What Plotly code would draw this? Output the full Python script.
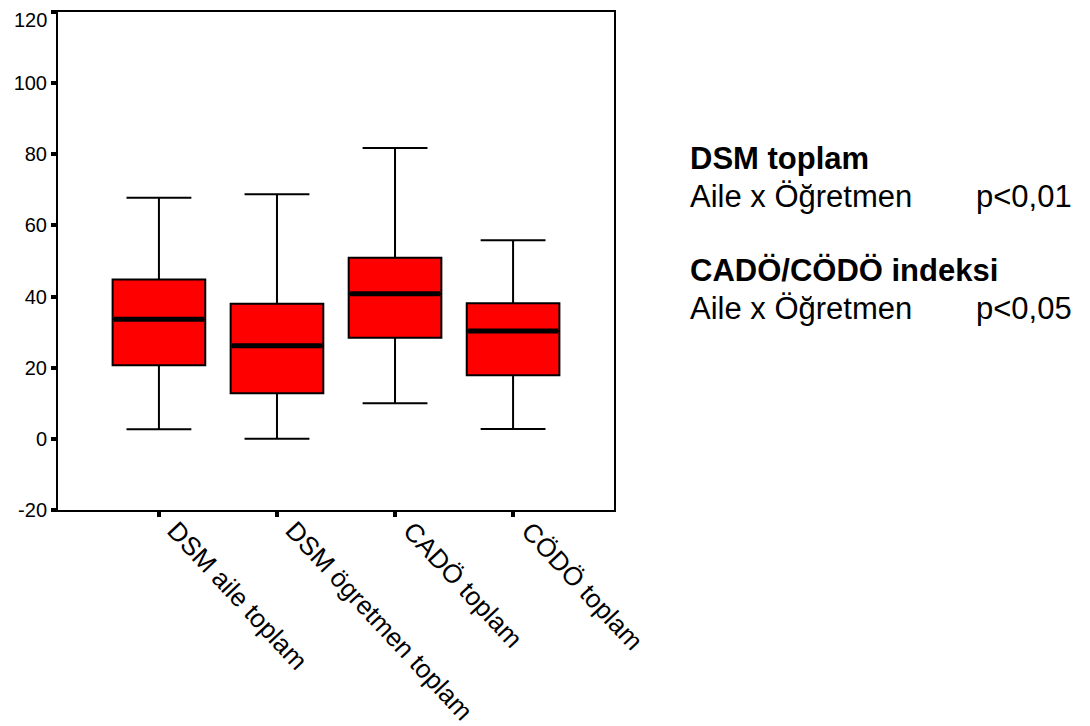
import plotly.graph_objects as go

categories = ["DSM aile toplam", "DSM ögretmen toplam", "CADÖ toplam", "CÖDÖ toplam"]
lower_whisker = [2.7, 0.0, 10.0, 2.8]
q1 = [20.7, 12.8, 28.4, 17.9]
median = [33.6, 26.2, 40.8, 30.3]
q3 = [44.8, 38.0, 50.9, 38.1]
upper_whisker = [67.8, 68.8, 81.8, 55.8]
y_ticks = [-20, 0, 20, 40, 60, 80, 100, 120]
y_tick_text = ["-20", "0", "20", "40", "60", "80", "100", "120"]

FONT = "Arial, 'Liberation Sans', sans-serif"
BOX_W = 0.785
xs = list(range(len(categories)))

# page has an 8px body margin; figure sized to fit the window
W, H = 1082, 718
OFF = 8
M_L, M_T, M_R, M_B = 50, 4, 476, 216

fig = go.Figure()
fig.add_trace(go.Box(
    x=xs, q1=q1, median=median, q3=q3,
    lowerfence=lower_whisker, upperfence=upper_whisker,
    width=BOX_W, whiskerwidth=0.7,
    fillcolor="#FF0000", line=dict(color="black", width=2),
    boxpoints=False, hoverinfo="skip", showlegend=False,
))

# thick median bars derived from the data
mx, my = [], []
for i, m in zip(xs, median):
    mx += [i - BOX_W / 2 + 0.012, i + BOX_W / 2 - 0.012, None]
    my += [m, m, None]
fig.add_trace(go.Scatter(x=mx, y=my, mode="lines",
                         line=dict(color="black", width=5),
                         hoverinfo="skip", showlegend=False))

fig.update_layout(
    width=W, height=H,
    margin=dict(l=M_L, r=M_R, t=M_T, b=M_B),
    paper_bgcolor="white", plot_bgcolor="white",
    font=dict(family=FONT, color="black"),
    showlegend=False,
)
fig.update_xaxes(
    range=[-0.855, 3.855], tickvals=xs, ticktext=[""] * len(xs),
    showline=True, linewidth=2, linecolor="black", mirror=True,
    ticks="outside", ticklen=5, tickwidth=4, tickcolor="black",
    showgrid=False, zeroline=False, automargin=False,
)
# top label is drawn as an annotation slightly lower so it is not clipped
fig.update_yaxes(
    range=[-20, 120], tickvals=y_ticks, ticktext=y_tick_text[:-1] + [""],
    tickfont=dict(size=20, family=FONT),
    showline=True, linewidth=2, linecolor="black", mirror=True,
    ticks="outside", ticklen=5, tickwidth=4, tickcolor="black",
    showgrid=False, zeroline=False, automargin=False,
)
fig.add_annotation(text=y_tick_text[-1], x=0, y=y_ticks[-1], xref="paper", yref="y",
                   xanchor="right", yanchor="middle", xshift=-10, yshift=-8,
                   borderpad=0, showarrow=False,
                   font=dict(size=20, family=FONT, color="black"))

# rotated category labels
for i, c in zip(xs, categories):
    fig.add_annotation(text=c, x=i, y=0, xref="x", yref="paper",
                       xanchor="left", yanchor="top", textangle=47,
                       xshift=0, yshift=-3, showarrow=False,
                       font=dict(size=26, family=FONT, color="black"))

PW = W - M_L - M_R
PH = H - M_T - M_B

def px_x(p):
    return (p - OFF - M_L) / PW

def px_y(p):
    return (H - M_B - (p - OFF)) / PH

ann = [
    ("<b>DSM toplam</b>", 688, 158),
    ("Aile x Öğretmen", 688, 196),
    ("p<0,01", 974, 196),
    ("<b>CADÖ/CÖDÖ indeksi</b>", 688, 270),
    ("Aile x Öğretmen", 688, 308),
    ("p<0,05", 974, 308),
]
for txt, x, y in ann:
    fig.add_annotation(text=txt, x=px_x(x), y=px_y(y), xref="paper", yref="paper",
                       xanchor="left", yanchor="middle", showarrow=False,
                       font=dict(size=31, family=FONT, color="black"))

fig.write_html("out.html")
